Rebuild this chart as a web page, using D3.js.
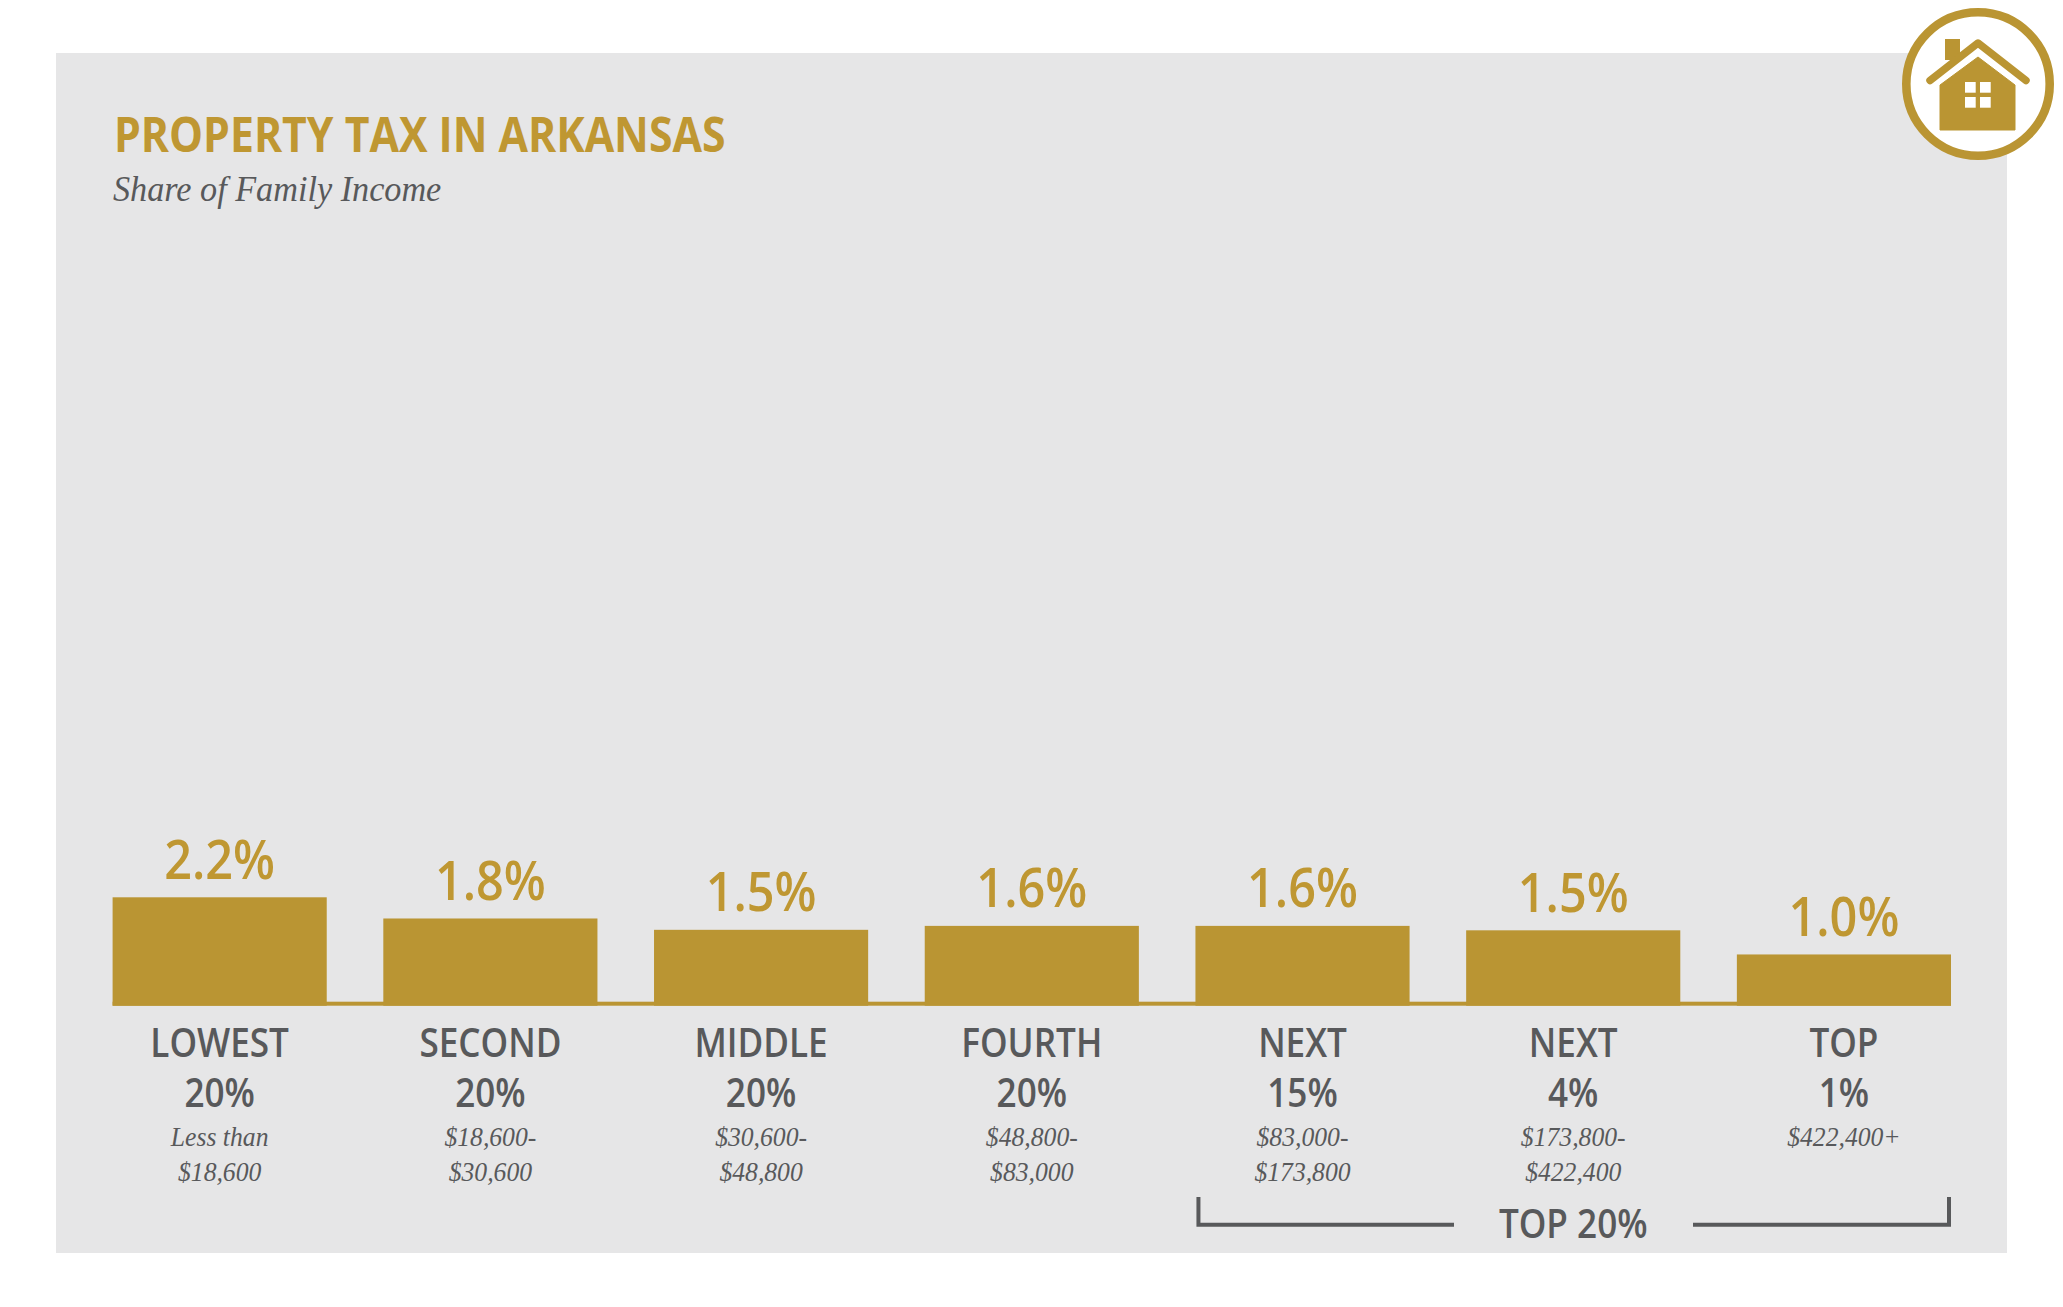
<!DOCTYPE html>
<html><head><meta charset="utf-8">
<script src="https://cdnjs.cloudflare.com/ajax/libs/d3/7.8.5/d3.min.js"></script>
<style>html,body{margin:0;padding:0;background:#fff}svg{display:block}</style></head>
<body><script>
const titleText = "PROPERTY TAX IN ARKANSAS";
const subtitleText = "Share of Family Income";
const groups = ["LOWEST","SECOND","MIDDLE","FOURTH","NEXT ","NEXT  ","TOP"];
const shares = ["20%","20%","20%","20%","15%","4%","1%"];
const ranges = [["Less than","$18,600"],["$18,600-","$30,600"],["$30,600-","$48,800"],["$48,800-","$83,000"],["$83,000-","$173,800"],["$173,800-","$422,400"],["$422,400+"]];
const values = [2.2,1.77,1.54,1.62,1.62,1.53,1.04];
const bracketLabel = "TOP 20%";

const GOLD="#ba9533", TITLE="#bf9732", GREY="#58595b", SANS="'Open Sans',sans-serif", SERIF="'Liberation Serif',serif";
const W=2063,H=1307;
const svg=d3.select("body").append("svg").attr("width",W).attr("height",H).attr("viewBox",`0 0 ${W} ${H}`);
svg.append("rect").attr("x",56).attr("y",53).attr("width",1951).attr("height",1200).attr("fill","#e6e6e7");

const x=d3.scaleBand().domain(groups).range([112.6,1951]).paddingInner(0.209).paddingOuter(0);
const y=d3.scaleLinear().domain([0,2.2]).range([1005.7,897.3]);

// squeezes glyphs horizontally to approximate the reference's narrower typeface
function squeeze(sel,f){sel.each(function(){const n=this;const l=n.getComputedTextLength();n.setAttribute("textLength",l*f);n.setAttribute("lengthAdjust","spacingAndGlyphs");});return sel;}

squeeze(svg.append("text").text(titleText).attr("x",114).attr("y",152).attr("font-family",SANS).attr("font-weight",700).attr("font-size",47.5).attr("fill",TITLE),0.9);
squeeze(svg.append("text").text(subtitleText).attr("x",113).attr("y",201).attr("font-family",SERIF).attr("font-style","italic").attr("font-size",36).attr("fill",GREY),0.95);

svg.append("rect").attr("x",x.range()[0]).attr("y",1001.7).attr("width",x.range()[1]-x.range()[0]).attr("height",4).attr("fill",GOLD);
svg.selectAll("rect.bar").data(values).join("rect").attr("class","bar")
 .attr("x",(d,i)=>x(groups[i])).attr("width",x.bandwidth()).attr("y",d=>y(d)).attr("height",d=>y(0)-y(d)).attr("fill",GOLD);

const cx=i=>x(groups[i])+x.bandwidth()/2;
squeeze(svg.selectAll("text.val").data(values).join("text").attr("class","val").text(d=>d.toFixed(1)+"%")
 .attr("x",(d,i)=>cx(i)).attr("y",d=>y(d)-18.5).attr("text-anchor","middle").attr("font-family",SANS).attr("font-weight",600).attr("font-size",54).attr("fill",TITLE),0.9);
squeeze(svg.selectAll("text.grp").data(groups).join("text").attr("class","grp").text(d=>d.trim())
 .attr("x",(d,i)=>cx(i)).attr("y",1056.7).attr("text-anchor","middle").attr("font-family",SANS).attr("font-weight",600).attr("font-size",39).attr("fill",GREY),0.9);
squeeze(svg.selectAll("text.shr").data(shares).join("text").attr("class","shr").text(d=>d)
 .attr("x",(d,i)=>cx(i)).attr("y",1106.7).attr("text-anchor","middle").attr("font-family",SANS).attr("font-weight",600).attr("font-size",39).attr("fill",GREY),0.9);
ranges.forEach((lines,i)=>{
  squeeze(svg.selectAll("text.rng"+i).data(lines).join("text").attr("class","rng"+i).text(d=>d)
   .attr("x",cx(i)).attr("y",(d,j)=>1146+j*35).attr("text-anchor","middle").attr("font-family",SERIF).attr("font-style","italic").attr("font-size",27).attr("fill",GREY),0.95);
});

// bracket
const bl=x(groups[4])+3, br=x(groups[6])+x.bandwidth()-2, by=1224.7, bt=1197;
svg.append("path").attr("d",`M${bl},${bt}V${by}H1454M1693,${by}H${br}V${bt}`).attr("fill","none").attr("stroke",GREY).attr("stroke-width",4);
squeeze(svg.append("text").text(bracketLabel).attr("x",cx(5)).attr("y",1238).attr("text-anchor","middle").attr("font-family",SANS).attr("font-weight",600).attr("font-size",39).attr("fill",GREY),0.9);

// house icon
const ic=svg.append("g");
ic.append("circle").attr("cx",1978).attr("cy",84).attr("r",71.7).attr("fill","#fff").attr("stroke",GOLD).attr("stroke-width",8.6);
ic.append("path").attr("d","M1945,39H1960V60H1945Z").attr("fill",GOLD);
ic.append("path").attr("d","M1930,80.5L1978,43L2026,80.5").attr("fill","none").attr("stroke",GOLD).attr("stroke-width",7.5).attr("stroke-linecap","round").attr("stroke-linejoin","round");
ic.append("path").attr("d","M1978,57L2015,85V130H1940V85Z").attr("fill",GOLD).attr("stroke",GOLD).attr("stroke-width",1).attr("stroke-linejoin","round");
[[1965,82],[1980,82],[1965,97],[1980,97]].forEach(p=>ic.append("rect").attr("x",p[0]).attr("y",p[1]).attr("width",10.7).attr("height",10.7).attr("fill","#fff"));
</script></body></html>
